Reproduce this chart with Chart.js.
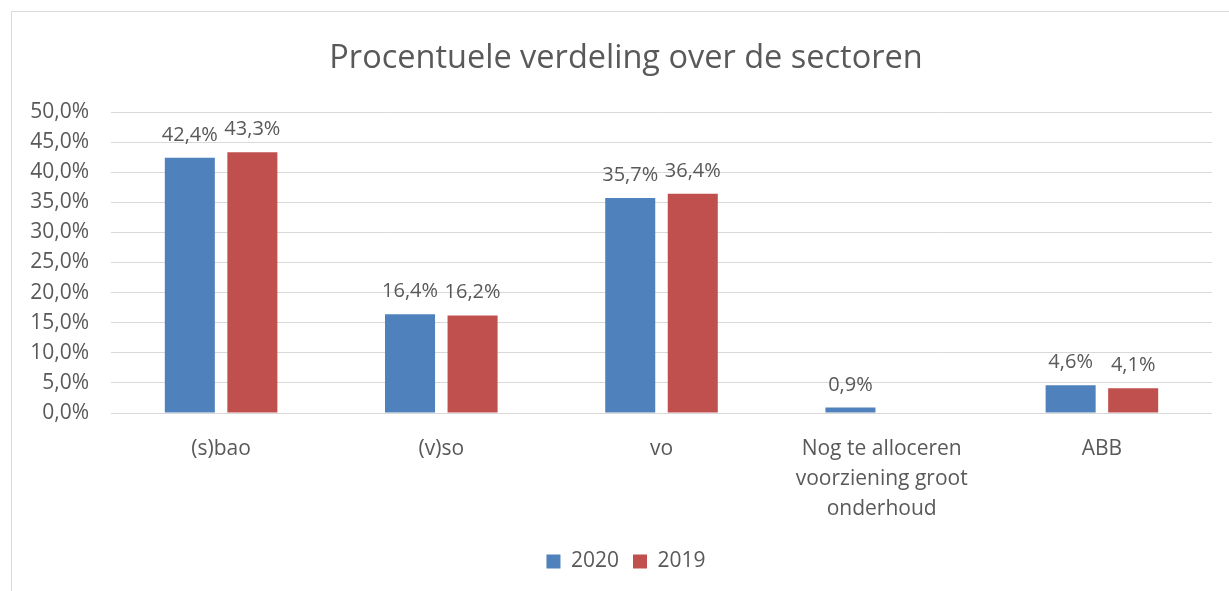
<!DOCTYPE html>
<html><head><meta charset="utf-8">
<script src="https://cdn.jsdelivr.net/npm/chart.js@4/dist/chart.umd.min.js"></script>
<style>
html,body{margin:0;padding:0;background:#fff;overflow:hidden}
#wrap{position:relative;width:1229px;height:591px;background:#fff;overflow:hidden}
#frame{position:absolute;left:11px;top:11px;width:1240px;height:620px;border:1px solid #d9d9d9;box-sizing:border-box}
canvas{position:absolute;left:0;top:0}
</style></head><body>
<div id="wrap"><div id="frame"></div><canvas id="c" width="1252" height="591"></canvas></div>
<script>
const titleText = 'Procentuele verdeling over de sectoren';
const categories = ['(s)bao', '(v)so', 'vo', ['Nog te alloceren', 'voorziening groot', 'onderhoud'], 'ABB'];
const seriesNames = ['2020', '2019'];
const values2020 = [42.4, 16.4, 35.7, 0.9, 4.6];
const values2019 = [43.3, 16.2, 36.4, null, 4.1];
const yTickValues = [0, 5, 10, 15, 20, 25, 30, 35, 40, 45, 50];
const yTickLabels = ['0,0%', '5,0%', '10,0%', '15,0%', '20,0%', '25,0%', '30,0%', '35,0%', '40,0%', '45,0%', '50,0%'];

const FONT = "'Open Sans', sans-serif";
const TXT = '#595959';

const fmt = v => v.toFixed(1).replace('.', ',') + '%';

const dataLabels = {
  id: 'dataLabels',
  afterDatasetsDraw(chart) {
    const ctx = chart.ctx;
    ctx.save();
    ctx.font = '20px ' + FONT;
    ctx.fillStyle = TXT;
    ctx.textAlign = 'center';
    ctx.textBaseline = 'alphabetic';
    chart.data.datasets.forEach((ds, di) => {
      const meta = chart.getDatasetMeta(di);
      meta.data.forEach((el, i) => {
        const v = ds.data[i];
        if (v === null || v === undefined) return;
        ctx.fillText(fmt(v), el.x, el.y - 17);
      });
    });
    ctx.restore();
  }
};

new Chart(document.getElementById('c'), {
  type: 'bar',
  data: {
    labels: categories,
    datasets: [
      { label: seriesNames[0], data: values2020, backgroundColor: '#4F81BD', borderWidth: 0 },
      { label: seriesNames[1], data: values2019, backgroundColor: '#C0504D', borderWidth: 0 }
    ]
  },
  options: {
    responsive: false,
    animation: false,
    events: [],
    layout: { padding: { left: 0, right: 0, top: 0, bottom: 9 } },
    datasets: { bar: { categoryPercentage: 0.568, barPercentage: 0.8 } },
    plugins: {
      title: {
        display: true, text: titleText, color: TXT,
        font: { family: FONT, size: 32.5, weight: 'normal', lineHeight: 1.2 },
        padding: { top: 39, bottom: 34 }
      },
      legend: {
        position: 'bottom',
        labels: {
          color: TXT, font: { family: FONT, size: 21 },
          boxWidth: 14, boxHeight: 14, padding: 14
        }
      },
      tooltip: { enabled: false }
    },
    scales: {
      x: {
        grid: { display: false, drawTicks: false },
        border: { display: false },
        ticks: { color: TXT, font: { family: FONT, size: 21, lineHeight: 1.42 }, padding: 21, maxRotation: 0, autoSkip: false },
        afterFit: s => { s.height = 124; }
      },
      y: {
        min: 0, max: 50,
        grid: { color: '#d9d9d9', drawTicks: false, lineWidth: 1 },
        border: { display: false },
        afterBuildTicks: s => { s.ticks = yTickValues.map(v => ({ value: v })); },
        ticks: {
          color: TXT, font: { family: FONT, size: 21 }, padding: 22,
          callback: (v) => yTickLabels[yTickValues.indexOf(v)]
        },
        afterFit: s => { s.width = 111; }
      },
      yPad: {
        position: 'right', display: true, min: 0, max: 1,
        grid: { display: false, drawTicks: false },
        border: { display: false },
        ticks: { display: false },
        afterFit: s => { s.width = 40; }
      }
    }
  },
  plugins: [dataLabels]
});
</script>
</body></html>
